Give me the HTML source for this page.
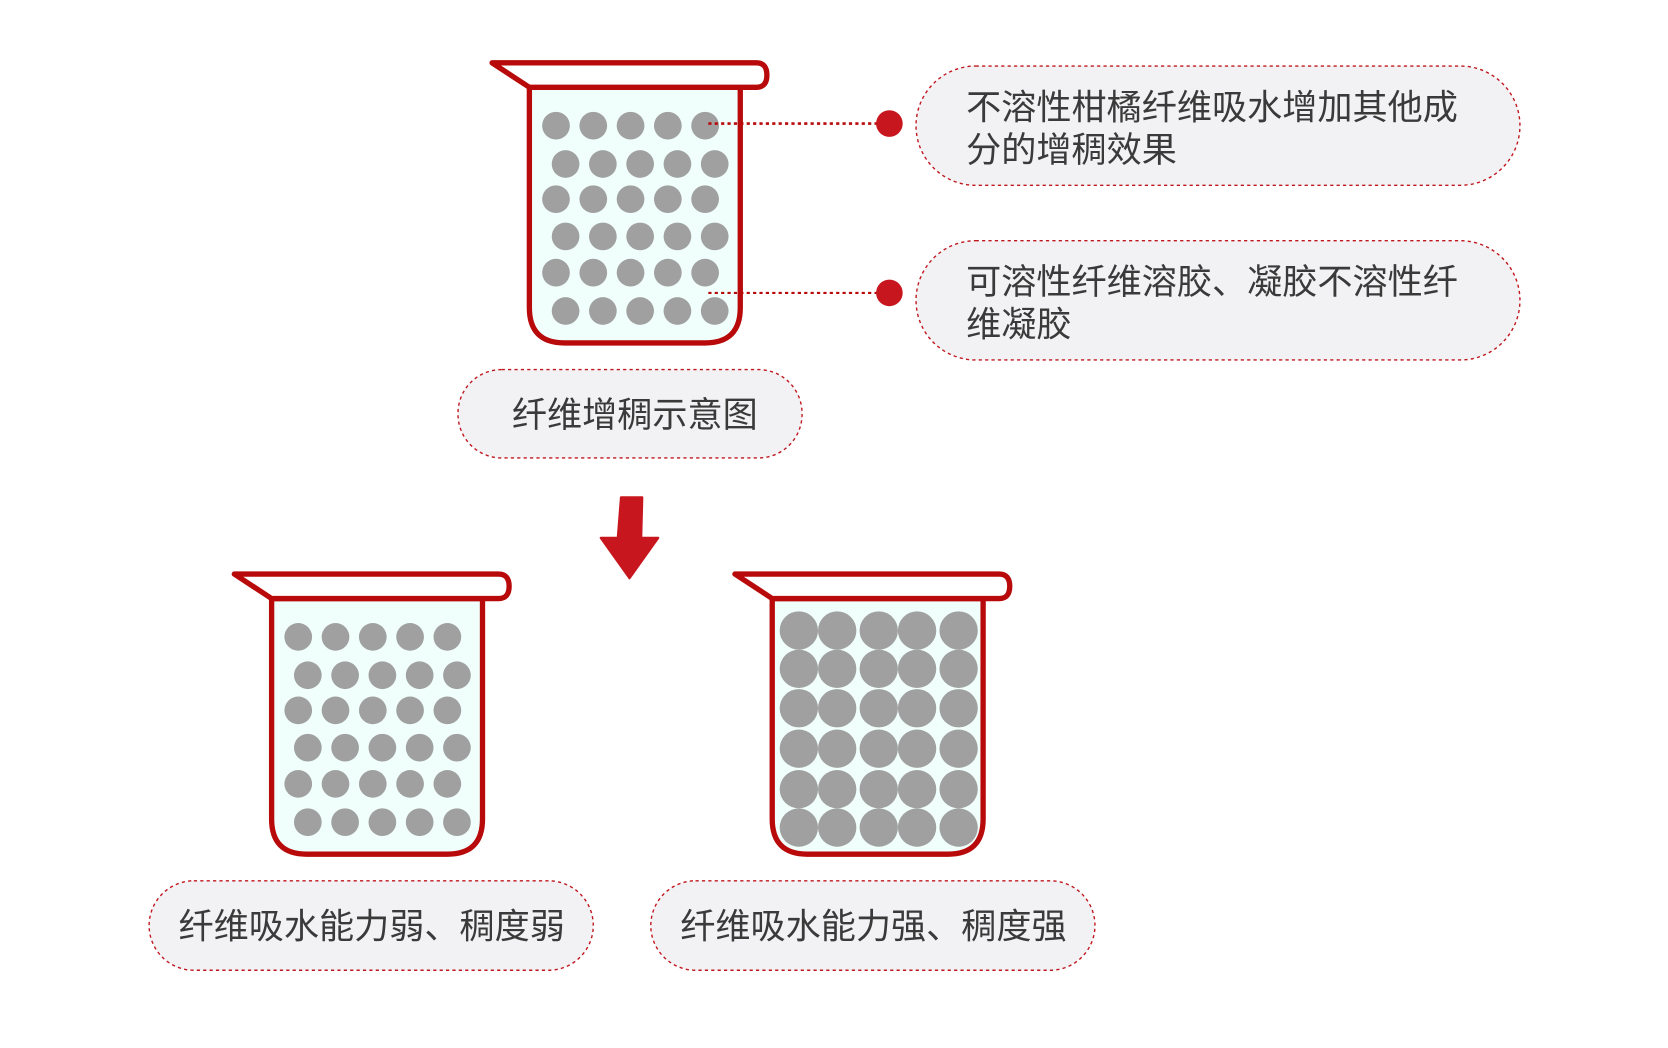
<!DOCTYPE html>
<html><head><meta charset="utf-8"><style>
html,body{margin:0;padding:0;background:#fff;}
svg{display:block;}
text{font-family:"Liberation Sans","Noto Sans CJK SC",sans-serif;fill:#3a3a3a;font-size:33px;}
</style></head><body>
<svg width="1668" height="1048" viewBox="0 0 1566 984" preserveAspectRatio="none" xmlns="http://www.w3.org/2000/svg">
<defs>
<g id="beaker">
  <path d="M35 23 L35 230 Q35 263 68 263 L200 263 Q233 263 233 230 L233 23 Z" fill="#f0fffb" stroke="#b80a0a" stroke-width="5" stroke-linejoin="round"/>
  <path d="M0 0 L248 0 Q258 0 258 11.5 Q258 23 248 23 L35 23 Z" fill="#fff" stroke="#b80a0a" stroke-width="5" stroke-linejoin="round"/>
</g>
<g id="dots" fill="#a0a0a0">
  <circle cx="60" cy="59" r="13"/><circle cx="95" cy="59" r="13"/><circle cx="130" cy="59" r="13"/><circle cx="165" cy="59" r="13"/><circle cx="200" cy="59" r="13"/>
  <circle cx="69" cy="95" r="13"/><circle cx="104" cy="95" r="13"/><circle cx="139" cy="95" r="13"/><circle cx="174" cy="95" r="13"/><circle cx="209" cy="95" r="13"/>
  <circle cx="60" cy="128" r="13"/><circle cx="95" cy="128" r="13"/><circle cx="130" cy="128" r="13"/><circle cx="165" cy="128" r="13"/><circle cx="200" cy="128" r="13"/>
  <circle cx="69" cy="163" r="13"/><circle cx="104" cy="163" r="13"/><circle cx="139" cy="163" r="13"/><circle cx="174" cy="163" r="13"/><circle cx="209" cy="163" r="13"/>
  <circle cx="60" cy="197" r="13"/><circle cx="95" cy="197" r="13"/><circle cx="130" cy="197" r="13"/><circle cx="165" cy="197" r="13"/><circle cx="200" cy="197" r="13"/>
  <circle cx="69" cy="233" r="13"/><circle cx="104" cy="233" r="13"/><circle cx="139" cy="233" r="13"/><circle cx="174" cy="233" r="13"/><circle cx="209" cy="233" r="13"/>
</g>
<g id="bigrow" fill="#a0a0a0"><circle cx="60" cy="0" r="18"/><circle cx="96" cy="0" r="18"/><circle cx="135" cy="0" r="18"/><circle cx="171" cy="0" r="18"/><circle cx="210" cy="0" r="18"/></g>
</defs>

<g transform="translate(462,59)"><use href="#beaker"/><use href="#dots"/></g>
<line x1="665" y1="116" x2="835" y2="116" stroke="#b80a0a" stroke-width="2.5" stroke-dasharray="3 3"/>
<line x1="665" y1="275" x2="835" y2="275" stroke="#b80a0a" stroke-width="2" stroke-dasharray="3 3"/>
<circle cx="835" cy="116" r="12.5" fill="#c8161e"/>
<circle cx="835" cy="275" r="12.5" fill="#c8161e"/>

<rect x="860" y="62" width="567" height="112" rx="56" fill="#f2f2f4" stroke="#c0161e" stroke-width="1.3" stroke-dasharray="3 3"/>
<text x="907" y="112">不溶性柑橘纤维吸水增加其他成</text>
<text x="907" y="152">分的增稠效果</text>
<rect x="860" y="226" width="567" height="112" rx="56" fill="#f2f2f4" stroke="#c0161e" stroke-width="1.3" stroke-dasharray="3 3"/>
<text x="907" y="276">可溶性纤维溶胶、凝胶不溶性纤</text>
<text x="907" y="316">维凝胶</text>

<rect x="430" y="347" width="323" height="83" rx="41" fill="#f2f2f4" stroke="#c0161e" stroke-width="1.3" stroke-dasharray="3 3"/>
<text x="596" y="401" text-anchor="middle">纤维增稠示意图</text>

<path d="M583 467 L603 467 L602 505 L618 505 L591 543 L564 505 L580 505 Z" fill="#c8161e" stroke="#c8161e" stroke-width="2" stroke-linejoin="round"/>

<g transform="translate(220,539)"><use href="#beaker"/><use href="#dots"/></g>
<g transform="translate(690,539)"><use href="#beaker"/></g>
<g transform="translate(690,0)">
<use href="#bigrow" y="592"/><use href="#bigrow" y="628"/><use href="#bigrow" y="665"/><use href="#bigrow" y="703"/><use href="#bigrow" y="741"/><use href="#bigrow" y="777"/>
</g>

<rect x="140" y="827" width="417" height="84" rx="42" fill="#f2f2f4" stroke="#c0161e" stroke-width="1.3" stroke-dasharray="3 3"/>
<text x="349" y="881" text-anchor="middle">纤维吸水能力弱、稠度弱</text>
<rect x="611" y="827" width="417" height="84" rx="42" fill="#f2f2f4" stroke="#c0161e" stroke-width="1.3" stroke-dasharray="3 3"/>
<text x="820" y="881" text-anchor="middle">纤维吸水能力强、稠度强</text>
</svg>
</body></html>
